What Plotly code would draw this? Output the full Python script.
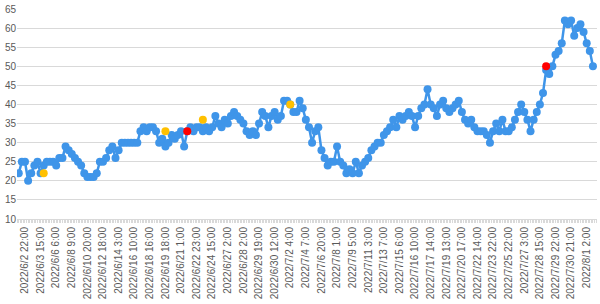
import plotly.graph_objects as go

# Category tick labels (every 5th point)
tick_labels = [
    "2022/6/2 22:00", "2022/6/3 15:00", "2022/6/6 6:00", "2022/6/8 9:00",
    "2022/6/10 20:00", "2022/6/12 18:00", "2022/6/14 3:00", "2022/6/16 10:00",
    "2022/6/18 16:00", "2022/6/19 18:00", "2022/6/21 1:00", "2022/6/22 23:00",
    "2022/6/24 15:00", "2022/6/27 2:00", "2022/6/28 2:00", "2022/6/29 19:00",
    "2022/6/30 12:00", "2022/7/2 4:00", "2022/7/4 7:00", "2022/7/6 20:00",
    "2022/7/8 1:00", "2022/7/9 5:00", "2022/7/11 3:00", "2022/7/13 7:00",
    "2022/7/15 6:00", "2022/7/16 10:00", "2022/7/17 14:00", "2022/7/19 13:00",
    "2022/7/20 17:00", "2022/7/22 14:00", "2022/7/23 22:00", "2022/7/25 22:00",
    "2022/7/27 3:00", "2022/7/28 15:00", "2022/7/29 22:00", "2022/7/30 21:00",
    "2022/8/1 2:00",
]

# Main series values
values = [
    22, 25, 25, 20, 22, 24, 25, 22, 24, 25,
    25, 25, 24, 26, 26, 29, 28, 27, 26, 25,
    24, 22, 21, 21, 21, 22, 25, 25, 26, 28,
    29, 26, 28, 30, 30, 30, 30, 30, 30, 33,
    34, 33, 34, 34, 33, 30, 31, 29, 30, 32,
    31, 32, 33, 29, 33, 34, 33, 34, 34, 33,
    34, 33, 34, 37, 35, 34, 36, 35, 37, 38,
    37, 36, 35, 33, 32, 33, 32, 35, 38, 37,
    34, 37, 38, 36, 37, 41, 41, 40, 38, 38,
    41, 39, 36, 34, 30, 33, 34, 28, 26, 24,
    25, 25, 29, 25, 24, 22, 23, 22, 25, 22,
    24, 25, 26, 28, 29, 30, 30, 32, 33, 34,
    36, 34, 37, 36, 37, 38, 37, 34, 37, 39,
    40, 44, 40, 39, 37, 40, 41, 39, 38, 39,
    40, 41, 38, 36, 35, 36, 34, 33, 33, 33,
    32, 30, 33, 35, 33, 36, 33, 33, 34, 36,
    38, 40, 38, 36, 33, 36, 38, 40, 43, 49,
    48, 50, 53, 54, 56, 62, 61, 62, 58, 60,
    61, 59, 56, 54, 50,
]

# Highlighted points
yellow_idx = [8, 47, 59, 87]
yellow_val = [22, 33, 36, 40]
red_idx = [54, 169]
red_val = [33, 50]

first_tick = 2
label_step = 5
x = list(range(len(values)))
tickvals = [first_tick + label_step * j for j in range(len(tick_labels))]

fig = go.Figure()
fig.add_trace(go.Scatter(
    x=x, y=values, mode="lines+markers",
    line=dict(color="#3f95e9", width=2.5),
    marker=dict(color="#3f95e9", size=8),
    hoverinfo="skip", showlegend=False,
))
fig.add_trace(go.Scatter(
    x=yellow_idx, y=yellow_val, mode="markers",
    marker=dict(color="#ffc000", size=8),
    showlegend=False,
))
fig.add_trace(go.Scatter(
    x=red_idx, y=red_val, mode="markers",
    marker=dict(color="#ff0000", size=8),
    showlegend=False,
))

fig.update_layout(
    width=600, height=304,
    margin=dict(l=17, r=3, t=7, b=85),
    paper_bgcolor="white", plot_bgcolor="white",
    font=dict(family="Liberation Sans", size=10, color="#595959"),
    showlegend=False,
)
fig.update_xaxes(
    range=[-0.56, 185.3],
    tickmode="array", tickvals=tickvals, ticktext=tick_labels,
    tickangle=-90, showgrid=False, zeroline=False,
    showline=True, linecolor="#d9d9d9", linewidth=1,
    ticks="outside", ticklen=3, tickcolor="#d9d9d9",
    minor=dict(ticks="outside", dtick=0.5, ticklen=3, tickcolor="#d9d9d9"),
)
fig.update_yaxes(
    range=[10, 65], dtick=5, tick0=10,
    showgrid=True, gridcolor="#d9d9d9", gridwidth=1,
    zeroline=False, showline=False, ticks="",
)

fig.write_html("out.html")
